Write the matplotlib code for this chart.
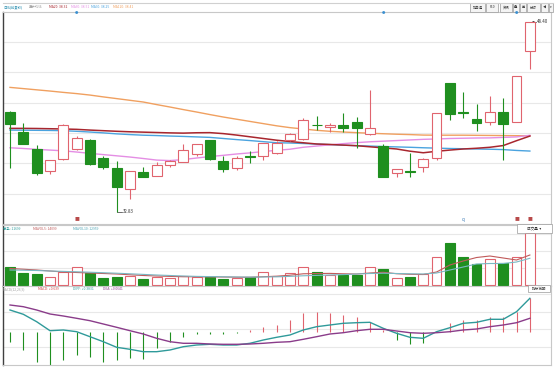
import numpy as np
import matplotlib
matplotlib.use('Agg')
import matplotlib.pyplot as plt
from matplotlib.patches import Rectangle

plt.rcParams['font.family'] = ['Noto Sans CJK SC', 'DejaVu Sans']

# daily k-line, 40 sessions (prices)
opens = [41.02, 39.38, 37.94, 36.19, 37.12, 37.94, 38.70, 37.20, 36.43, 34.66,
         36.06, 35.75, 36.63, 36.92, 37.56, 38.70, 36.98, 36.43, 37.43, 37.39,
         37.61, 38.70, 38.76, 39.96, 39.74, 39.91, 40.18, 39.17, 38.21, 35.97,
         36.16, 36.47, 37.20, 43.35, 41.02, 40.40, 40.15, 41.02, 40.20, 46.02]
closes = [40.02, 38.38, 36.02, 37.04, 39.93, 38.89, 36.71, 36.47, 34.88, 36.16,
          35.70, 36.65, 36.98, 37.86, 38.35, 37.17, 36.30, 37.23, 37.35, 38.48,
          38.46, 39.20, 40.34, 39.91, 39.93, 39.66, 39.69, 39.66, 35.70, 36.30,
          36.06, 37.12, 40.89, 40.81, 40.89, 40.07, 41.02, 39.99, 43.97, 48.40]
highs = [41.10, 40.12, 38.29, 37.05, 40.01, 39.06, 38.78, 37.42, 37.01, 36.18,
         36.51, 36.88, 37.06, 38.40, 38.37, 38.74, 37.42, 37.42, 37.83, 38.50,
         38.62, 39.28, 40.48, 40.67, 40.12, 40.89, 40.61, 42.80, 38.35, 36.33,
         37.61, 37.23, 40.91, 43.38, 42.66, 41.63, 42.31, 42.12, 43.97, 48.40]
lows = [36.41, 38.35, 35.83, 35.89, 37.07, 37.88, 36.65, 36.30, 32.83, 33.84,
        35.67, 35.72, 36.51, 36.90, 37.42, 37.10, 36.06, 36.22, 36.79, 37.06,
        37.56, 38.62, 38.70, 39.52, 39.38, 39.38, 38.02, 39.15, 35.67, 35.70,
        35.70, 36.06, 37.06, 40.34, 40.48, 39.47, 39.93, 37.06, 40.20, 44.50]

ma20 = [39.66, 39.66, 39.65, 39.63, 39.61, 39.58, 39.52, 39.47, 39.42, 39.38,
        39.35, 39.32, 39.29, 39.27, 39.30, 39.31, 39.23, 39.11, 38.97, 38.83,
        38.69, 38.58, 38.48, 38.38, 38.34, 38.29, 38.24, 38.15, 38.06, 37.97,
        37.79, 37.66, 37.78, 37.88, 37.97, 38.03, 38.11, 38.25, 38.65, 39.03]
ma60 = [38.07, 38.01, 37.94, 37.88, 37.82, 37.72, 37.61, 37.51, 37.41, 37.31,
        37.19, 37.06, 37.02, 37.10, 37.23, 37.35, 37.45, 37.56, 37.65, 37.76,
        37.86, 37.95, 38.11, 38.21, 38.31, 38.41, 38.49, 38.56, 38.61, 38.66,
        38.71, 38.76, 38.79, 38.83, 38.85, 38.87, 38.88, 38.92, 38.96, 39.09]
ma90 = [39.52, 39.51, 39.50, 39.49, 39.47, 39.42, 39.36, 39.29, 39.21, 39.15,
        39.10, 39.07, 39.03, 39.00, 38.96, 38.92, 38.83, 38.74, 38.66, 38.57,
        38.48, 38.46, 38.42, 38.37, 38.33, 38.28, 38.24, 38.21, 38.17, 38.14,
        38.11, 38.07, 38.04, 38.01, 37.99, 37.97, 37.95, 37.92, 37.85, 37.80]
ma120 = [43.02, 42.92, 42.82, 42.72, 42.61, 42.51, 42.39, 42.24, 42.10, 41.96,
         41.82, 41.61, 41.41, 41.20, 41.00, 40.79, 40.59, 40.41, 40.23, 40.05,
         39.87, 39.72, 39.61, 39.50, 39.42, 39.36, 39.31, 39.26, 39.22, 39.18,
         39.15, 39.11, 39.10, 39.10, 39.10, 39.09, 39.08, 39.07, 39.06, 39.06]

volume = [4960, 3280, 3000, 2160, 3560, 5120, 3280, 2040, 2320, 2520,
          1600, 2160, 2040, 2600, 2320, 2160, 1680, 2040, 2160, 3560,
          2600, 3280, 4960, 3640, 2720, 2800, 2800, 5120, 4480, 1880,
          2320, 3080, 7920, 11699, 7840, 5960, 7200, 6160, 7840, 14480]
mavol5 = [4620, 4420, 4200, 3920, 3640, 3500, 3360, 3220, 3080, 2860,
          2660, 2520, 2410, 2320, 2300, 2270, 2240, 2180, 2160, 2320,
          2460, 2740, 3140, 3220, 3250, 3140, 3080, 3360, 3560, 3160,
          3000, 2940, 3640, 5600, 6720, 7700, 8120, 7560, 7000, 8400]
mavol10 = [4200, 4140, 4060, 3920, 3810, 3700, 3580, 3440, 3300, 3140,
           2970, 2800, 2660, 2520, 2410, 2350, 2300, 2240, 2210, 2240,
           2300, 2410, 2580, 2690, 2800, 2910, 3080, 3220, 3300, 3220,
           3140, 3080, 3360, 4200, 5040, 5880, 6020, 6020, 6440, 7480]

diff = [0.44, 0.354, 0.206, 0.026, 0.04, 0.006, -0.094, -0.194, -0.306, -0.346,
        -0.394, -0.394, -0.36, -0.294, -0.26, -0.246, -0.26, -0.26, -0.226, -0.16,
        -0.106, -0.06, 0.04, 0.106, 0.14, 0.174, 0.186, 0.194, 0.074, -0.026,
        -0.106, -0.126, 0.006, 0.086, 0.174, 0.194, 0.254, 0.254, 0.406, 0.674]
dea = [0.54, 0.506, 0.44, 0.36, 0.32, 0.274, 0.226, 0.16, 0.094, 0.026,
       -0.04, -0.126, -0.194, -0.226, -0.226, -0.24, -0.246, -0.246, -0.24, -0.226,
       -0.206, -0.194, -0.146, -0.094, -0.04, -0.014, 0.026, 0.054, 0.054, 0.02,
       -0.014, -0.026, -0.014, 0.006, 0.04, 0.06, 0.106, 0.14, 0.186, 0.274]
macd = [-0.194, -0.36, -0.594, -0.66, -0.56, -0.46, -0.506, -0.594, -0.56, -0.526,
        -0.54, -0.326, -0.194, -0.094, -0.04, -0.03, -0.03, -0.01, 0.04, 0.106,
        0.14, 0.24, 0.374, 0.394, 0.386, 0.34, 0.306, 0.206, 0.04, -0.16,
        -0.24, -0.226, 0.03, 0.174, 0.24, 0.24, 0.294, 0.306, 0.406, 0.674]

RED = '#e0646e'
GREEN = '#1f8f1f'
GRID = '#e8e8e8'

W, H = 557, 368
fig = plt.figure(figsize=(W / 100, H / 100), dpi=100)


def rect(x0, y0, x1, y1):
    return [x0 / W, 1 - y1 / H, (x1 - x0) / W, (y1 - y0) / H]


def fx(px):
    return px / W


def fy(py):
    return 1 - py / H


ax = fig.add_axes(rect(3, 12, 551, 224))
axv = fig.add_axes(rect(3, 225, 551, 286))
axm = fig.add_axes(rect(3, 286, 551, 365))

x = np.arange(len(opens))
up = [c >= o for o, c in zip(opens, closes)]
cols = [RED if u else GREEN for u in up]

for a in (ax, axv, axm):
    a.set_xlim(-0.525, 40.585)
    a.set_xticks([])
    a.set_yticks([])
    for s in ('top', 'right', 'bottom'):
        a.spines[s].set_color('#c8c8c8')
        a.spines[s].set_linewidth(0.8)
    a.spines['left'].set_color('#404040')
    a.spines['left'].set_linewidth(1.0)

# ---- main k-line panel
ax.set_ylim(31.82, 49.20)
for g in [46.76, 44.27, 41.78, 39.29, 36.80, 34.31]:
    ax.axhline(g, color=GRID, lw=0.8, zorder=0)

ax.plot(x, ma120, color='#f0a060', lw=1.0, zorder=2)
ax.plot(x, ma90, color='#4aa3df', lw=1.0, zorder=2)
ax.plot(x, ma60, color='#e48ee4', lw=1.0, zorder=2)
ax.plot(x, ma20, color='#a8262e', lw=1.1, zorder=2)

for i in x:
    ax.vlines(i, lows[i], highs[i], color=cols[i], lw=0.8, zorder=3)
    lo = min(opens[i], closes[i])
    h = max(abs(closes[i] - opens[i]), 0.05)
    ax.add_patch(Rectangle((i - 0.37, lo), 0.74, h,
                           facecolor='white' if up[i] else GREEN,
                           edgecolor=cols[i], lw=0.8, zorder=4))

ax.plot([8, 8.4], [lows[8], lows[8]], color='#333333', lw=0.5)
ax.text(8.45, lows[8], '32.83', fontsize=3.2, va='center', ha='left', color='#333333')
ax.plot([39, 39.45], [highs[39], highs[39]], color='#333333', lw=0.5)
ax.plot([39.2], [highs[39]], 'o', ms=1, color='#333333')
ax.text(39.5, highs[39], '48.40', fontsize=3.2, va='center', ha='left', color='#333333')

# event marks
for px in (77, 384, 517):
    fig.text(fx(px), fy(13), '●', fontsize=2.5, color='#3a8fd0', ha='center', va='center')
for px in (77, 517, 530):
    fig.text(fx(px), fy(219), '■', fontsize=3.5, color='#b84a4a', ha='center', va='center')
fig.text(fx(463), fy(220), 'q', fontsize=3.2, color='#2a6fb0', ha='center', va='center')

# ---- volume panel
axv.set_ylim(-280, 16800)
for g in [14280, 9520, 4760]:
    axv.axhline(g, color=GRID, lw=0.8, zorder=0)
axv.bar(x, volume, width=0.74, color=['white' if u else GREEN for u in up],
        edgecolor=cols, lw=0.8, zorder=3)
axv.plot(x, mavol5, color='#c05a5a', lw=0.8, zorder=4)
axv.plot(x, mavol10, color='#7ab8c4', lw=0.8, zorder=4)

# ---- macd panel
axm.set_ylim(-0.66, 0.92)
for g in [0.76, 0.406, 0.054, -0.294]:
    axm.axhline(g, color=GRID, lw=0.8, zorder=0)
axm.vlines(x, 0, macd, colors=[RED if m >= 0 else GREEN for m in macd], lw=0.8, zorder=2)
axm.plot(x, diff, color='#2f9a9a', lw=1.0, zorder=3)
axm.plot(x, dea, color='#8a3c8a', lw=1.0, zorder=3)

# ---- header texts
fs = 2.4
fig.add_artist(plt.Line2D([fx(3), fx(553)], [fy(2.5), fy(2.5)], color='#d0d0d0', lw=0.8))
heads = [
    (3, 7, '日线(前复权)', '#2a8fb0'),
    (29, 7, '显示均线', '#a0a0a0'),
    (49, 7, 'MA20: 38.32', '#a8262e'),
    (71, 7, 'MA60: 38.51', '#e48ee4'),
    (91, 7, 'MA90: 38.25', '#4aa3df'),
    (113, 7, 'MA120: 38.41', '#f0a060'),
    (3, 229, '总手: 11699', '#2a9a9a'),
    (33, 229, 'MAVOL5: 14099', '#c05a5a'),
    (73, 229, 'MAVOL10: 12959', '#4aa3b4'),
    (3, 289, 'MACD(12,26,9)', '#a0a0a0'),
    (38, 289, 'MACD: +0.639', '#d04040'),
    (73, 289, 'DIFF: +0.3831', '#2f9a9a'),
    (103, 289, 'DEA: +0.0641', '#8a3c8a'),
]
for px, py, t, c in heads:
    fig.text(fx(px), fy(py), t, fontsize=fs, color=c, ha='left', va='center')

# toolbar buttons at top right
buttons = [(470, 485, '加自选'), (486, 498, 'F10'), (500, 512, '资讯'), (513, 519, '叠'),
           (520, 526, '画'), (527, 540, '分时'), (541, 548, '◀'), (549, 553, '▾')]
for x0, x1, t in buttons:
    fig.add_artist(Rectangle((fx(x0), fy(12)), fx(x1 - x0), 9 / H, transform=fig.transFigure,
                             facecolor='#f4f4f4', edgecolor='#9a9a9a', lw=0.5))
    fig.text(fx((x0 + x1) / 2), fy(7.5), t, fontsize=2.4, color='#333333', ha='center', va='center')

for x0, y0, x1, y1, t in [(517, 224, 552, 233, '成交量  ▾'), (528, 285, 550, 292, '指标说明')]:
    fig.add_artist(Rectangle((fx(x0), fy(y1)), fx(x1 - x0), (y1 - y0) / H, transform=fig.transFigure,
                             facecolor='white', edgecolor='#9a9a9a', lw=0.5, zorder=5))
    fig.text(fx((x0 + x1) / 2), fy((y0 + y1) / 2), t, fontsize=2.6, color='#333333',
             ha='center', va='center', zorder=6)

fig.savefig('out.png', dpi=100, facecolor='white')
